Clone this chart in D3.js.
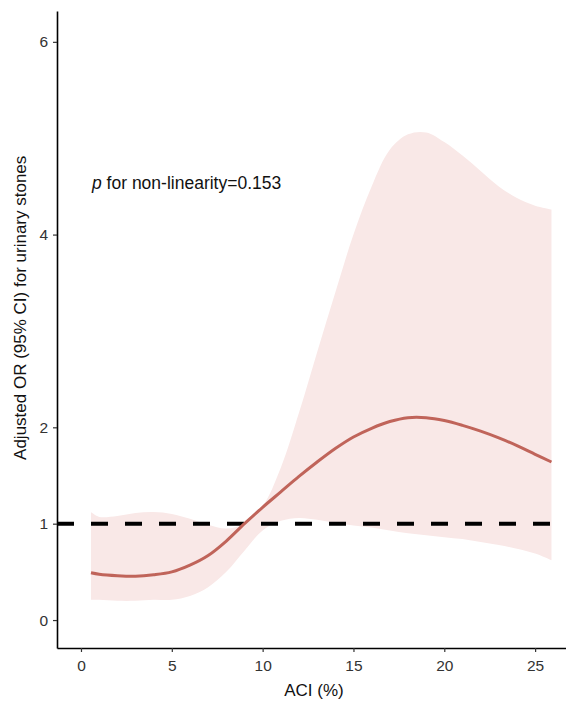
<!DOCTYPE html>
<html>
<head>
<meta charset="utf-8">
<script src="https://cdn.jsdelivr.net/npm/d3@7"></script>
<style>
  body { margin: 0; background: #fff; }
  text { font-family: "Liberation Sans", Arial, sans-serif; }
</style>
</head>
<body>
<svg id="mainsvg" width="566" height="702"></svg>
<script>
const aci   = [0.55, 1, 2, 3, 4, 5, 6, 7, 8, 9, 10, 11, 12, 13, 14, 15, 16, 17, 18, 19, 20, 21, 22, 23, 24, 25, 25.9];
// adjusted OR
const orFit = [0.49, 0.475, 0.46, 0.455, 0.47, 0.50, 0.57, 0.67, 0.82, 1.0, 1.17, 1.33, 1.49, 1.64, 1.78, 1.90, 1.99, 2.06, 2.10, 2.10, 2.07, 2.02, 1.96, 1.89, 1.81, 1.72, 1.64];
// 95% CI bounds
const ciLow = [0.21, 0.21, 0.20, 0.20, 0.21, 0.21, 0.25, 0.34, 0.50, 0.72, 0.93, 1.03, 1.06, 1.04, 1.01, 0.98, 0.96, 0.93, 0.90, 0.88, 0.86, 0.84, 0.81, 0.78, 0.74, 0.69, 0.62];
const ciUp  = [1.12, 1.07, 1.08, 1.11, 1.12, 1.10, 1.05, 0.99, 0.95, 1.00, 1.18, 1.58, 2.15, 2.78, 3.40, 4.00, 4.50, 4.88, 5.04, 5.06, 4.96, 4.82, 4.66, 4.50, 4.38, 4.30, 4.26];

const xTicks = [0, 5, 10, 15, 20, 25];
const yTicks = [0, 1, 2, 4, 6];
const refOR = 1;
const pText = "for non-linearity=0.153";

const svg = d3.select('#mainsvg');
const width = +svg.attr('width');
const height = +svg.attr('height');

const data = aci.map((x, i) => ({x: x, or: orFit[i], lo: ciLow[i], hi: ciUp[i]}));

const xScale = d3.scaleLinear().domain([-1.32, 26.7]).range([57, 566]);
const yScale = d3.scaleLinear().domain([-0.29, 6.32]).range([648, 11]);

// CI band
const area = d3.area()
  .x(d => xScale(d.x))
  .y0(d => yScale(d.lo))
  .y1(d => yScale(d.hi))
  .curve(d3.curveCatmullRom);

svg.append('path')
  .datum(data)
  .attr('d', area)
  .attr('fill', '#f9e8e7');

// reference line at OR = 1
svg.append('line')
  .attr('x1', xScale.range()[0]).attr('x2', xScale.range()[1])
  .attr('y1', yScale(refOR)).attr('y2', yScale(refOR))
  .attr('stroke', '#000')
  .attr('stroke-width', 4)
  .attr('stroke-dasharray', '17,17');

// fitted curve
const line = d3.line()
  .x(d => xScale(d.x))
  .y(d => yScale(d.or))
  .curve(d3.curveCatmullRom);

svg.append('path')
  .datum(data)
  .attr('d', line)
  .attr('fill', 'none')
  .attr('stroke', '#c0645a')
  .attr('stroke-width', 3);

// axes
const xAxis = svg.append('g')
  .attr('transform', `translate(0, ${yScale.range()[0]})`)
  .call(d3.axisBottom(xScale).tickValues(xTicks).tickSize(4).tickSizeOuter(0).tickFormat(d3.format('d')));

const yAxis = svg.append('g')
  .attr('transform', `translate(${xScale.range()[0]}, 0)`)
  .call(d3.axisLeft(yScale).tickValues(yTicks).tickSize(4).tickSizeOuter(0).tickFormat(d3.format('d')));

[xAxis, yAxis].forEach(g => {
  g.select('.domain').attr('stroke', '#000').attr('stroke-width', 1.6);
  g.selectAll('.tick line').attr('stroke', '#333').attr('stroke-width', 1.2);
  g.selectAll('.tick text')
    .style('font-size', '15.5px')
    .style('font-family', '"Liberation Sans", Arial, sans-serif')
    .attr('fill', '#333');
});
xAxis.selectAll('.tick text').attr('dy', '1.05em');
yAxis.selectAll('.tick text').attr('x', -9);

// axis titles
svg.append('text')
  .attr('x', 314)
  .attr('y', 696)
  .attr('text-anchor', 'middle')
  .style('font-size', '17px')
  .attr('fill', '#111')
  .text('ACI (%)');

svg.append('text')
  .attr('transform', `translate(26, ${yScale(3.24)}) rotate(-90)`)
  .attr('text-anchor', 'middle')
  .style('font-size', '17px')
  .attr('fill', '#111')
  .text('Adjusted OR (95% CI) for urinary stones');

// p-value annotation
const ann = svg.append('text')
  .attr('x', 92)
  .attr('y', 189)
  .style('font-size', '17.5px')
  .attr('fill', '#111');
ann.append('tspan').style('font-style', 'italic').text('p');
ann.append('tspan').text(' ' + pText);
</script>
</body>
</html>
